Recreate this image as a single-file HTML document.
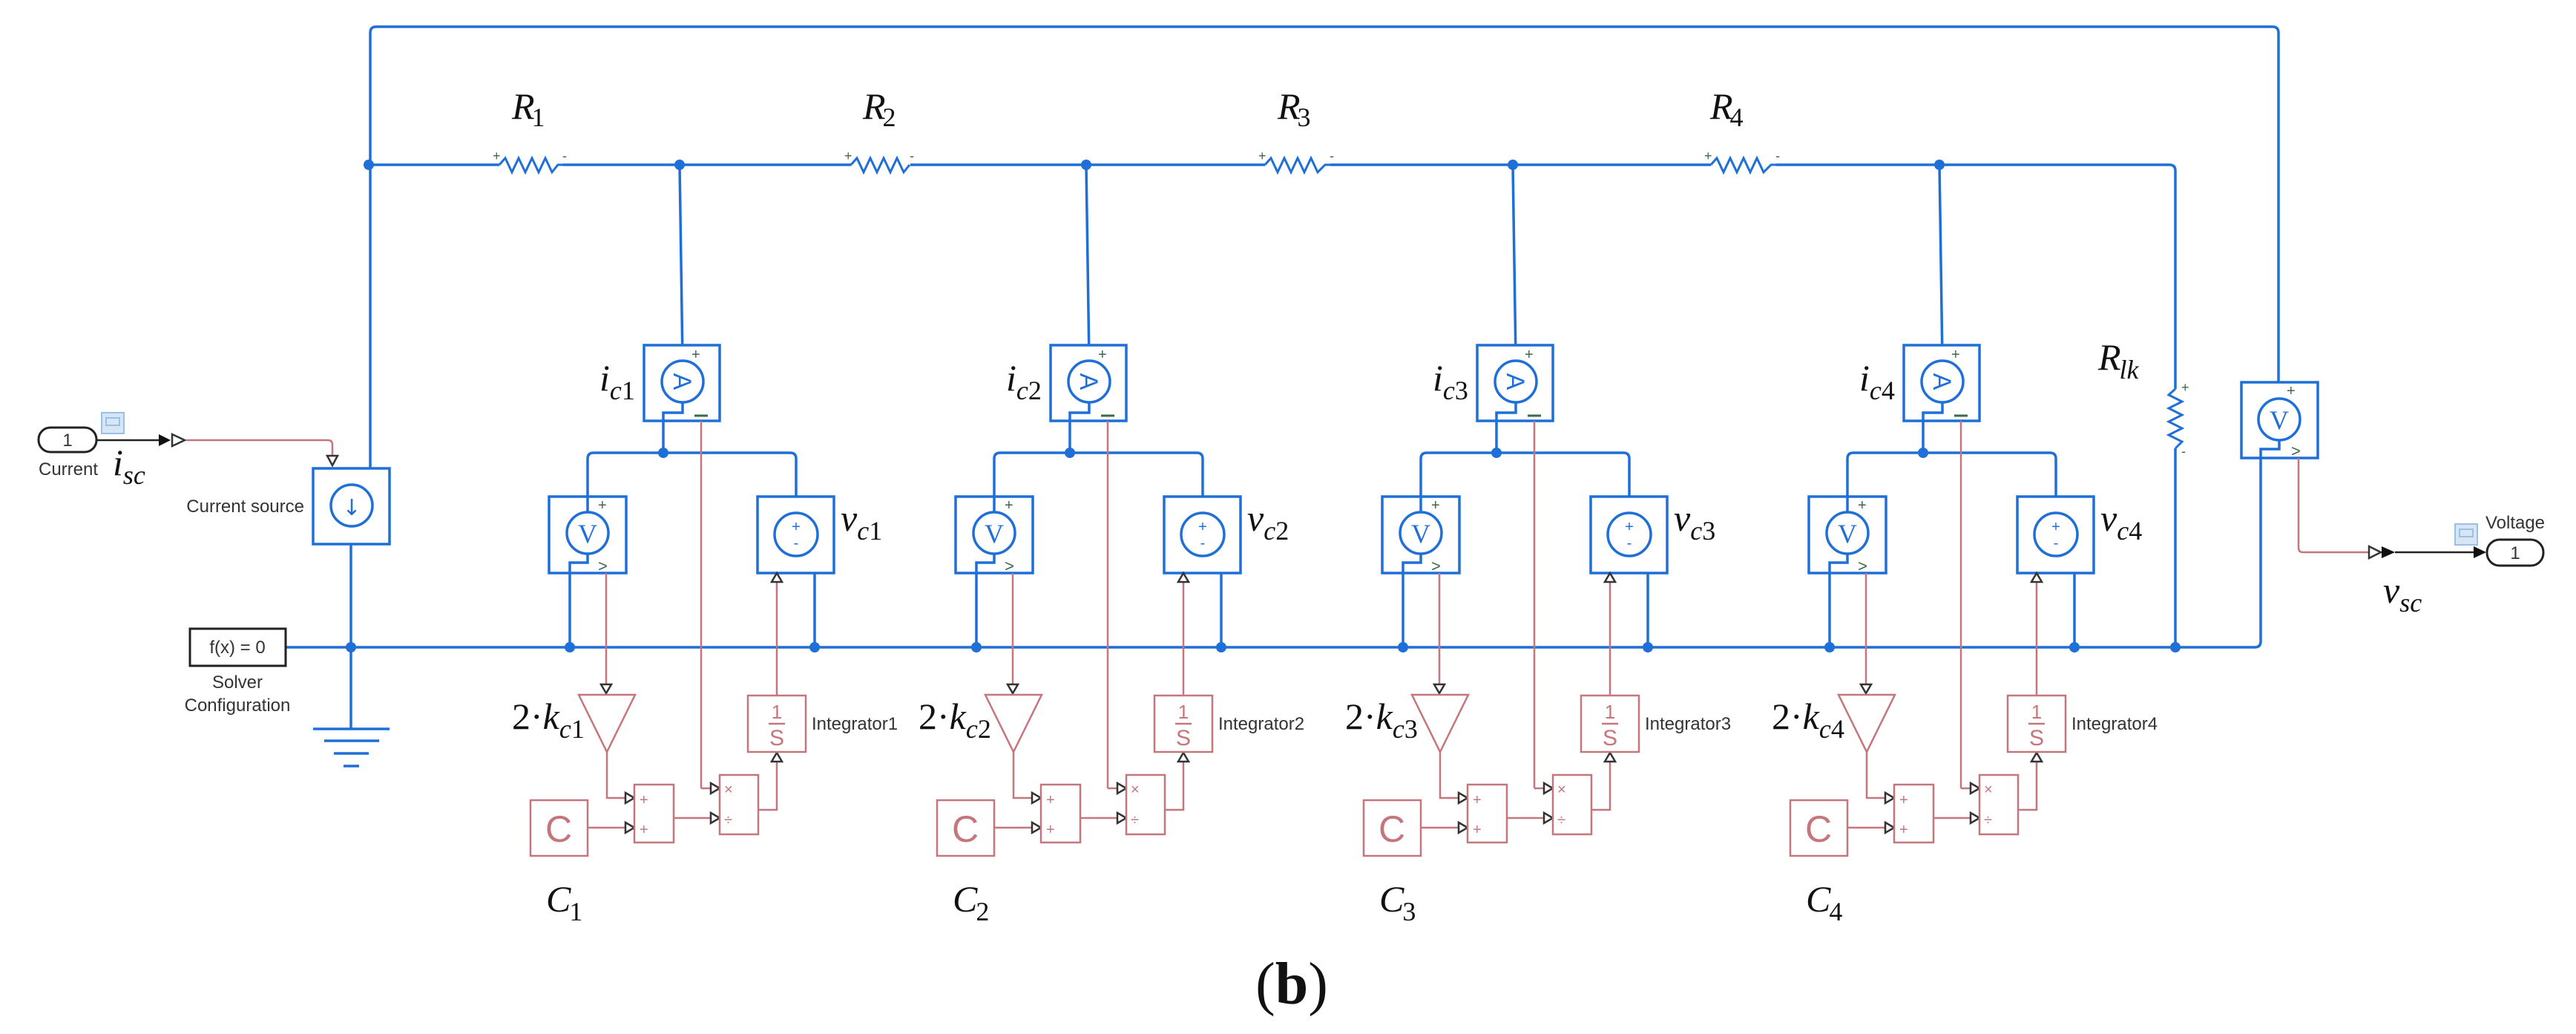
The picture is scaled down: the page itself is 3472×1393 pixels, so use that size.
<!DOCTYPE html>
<html><head><meta charset="utf-8"><style>
html,body{margin:0;padding:0;background:#fff;}
svg{display:block;}
.b{stroke:#1f6fd8;stroke-width:3.5;fill:none;}
.r{stroke:#c5767c;stroke-width:2.5;fill:none;}
.rb{stroke:#c5767c;stroke-width:2.5;fill:#fff;}
.bb{stroke:#1f6fd8;stroke-width:3.5;fill:#fff;}
.dot{fill:#1f6fd8;}
.ar{fill:#fff;stroke:#333;stroke-width:2.5;}
.m{font-family:"Liberation Serif",serif;font-style:italic;font-size:50px;fill:#111;}
.s{font-family:"Liberation Serif",serif;font-style:italic;font-size:36px;}
.sn{font-family:"Liberation Serif",serif;font-style:normal;font-size:36px;}
.t{font-family:"Liberation Sans",sans-serif;font-size:24px;fill:#333;}
</style></head><body>
<svg width="3472" height="1393" viewBox="0 0 3472 1393" xmlns="http://www.w3.org/2000/svg">
<defs>
<g id="mod">
  <!-- top vertical to ammeter -->
  <line class="b" x1="916" y1="222" x2="920" y2="486"/>
  <!-- ammeter -->
  <rect class="bb" x="868" y="465" width="102" height="102"/>
  <circle class="b" cx="920" cy="514" r="28" stroke-width="3"/>
  <text x="920" y="526" text-anchor="middle" transform="rotate(90 920 514)" font-family="Liberation Sans,sans-serif" font-size="34" fill="#1f6fd8">A</text>
  <text x="932" y="484" font-family="Liberation Sans,sans-serif" font-size="20" fill="#3a6a4a">+</text>
  <line x1="936" y1="560" x2="954" y2="560" stroke="#3a6a4a" stroke-width="3"/>
  <polyline class="b" stroke-width="2.5" points="920,542 920,556 894,556 894,610"/>
  <!-- junction horizontal -->
  <path class="b" d="M792,669 V618 Q792,610 800,610 H1065 Q1073,610 1073,618 V669"/>
  <circle class="dot" cx="894" cy="610" r="7"/>
  <!-- V sensor -->
  <rect class="bb" x="740" y="669" width="104" height="103"/>
  <line class="b" x1="792" y1="669" x2="792" y2="690"/>
  <circle class="b" cx="792" cy="718" r="28" stroke-width="3"/>
  <text x="792" y="731" text-anchor="middle" font-family="Liberation Serif,serif" font-size="36" fill="#1f6fd8">V</text>
  <text x="806" y="687" font-family="Liberation Sans,sans-serif" font-size="20" fill="#3a6a4a">+</text>
  <text x="806" y="770" font-family="Liberation Sans,sans-serif" font-size="22" fill="#3a6a4a">&gt;</text>
  <polyline class="b" stroke-width="2.5" points="792,746 792,758 768,758 768,872"/>
  <circle class="dot" cx="768" cy="872" r="7"/>
  <!-- voltage source -->
  <rect class="bb" x="1021" y="669" width="103" height="103"/>
  <circle class="b" cx="1073" cy="720" r="29" stroke-width="3"/>
  <text x="1073" y="716" text-anchor="middle" font-family="Liberation Sans,sans-serif" font-size="20" fill="#1f6fd8">+</text>
  <text x="1073" y="738" text-anchor="middle" font-family="Liberation Sans,sans-serif" font-size="20" fill="#1f6fd8">-</text>
  <line class="b" x1="1098" y1="772" x2="1098" y2="872"/>
  <circle class="dot" cx="1098" cy="872" r="7"/>
  <!-- red signals -->
  <line class="r" x1="945" y1="567" x2="945" y2="1062"/>
  <line class="r" x1="945" y1="1062" x2="958" y2="1062"/>
  <polygon class="ar" points="958,1055 970,1062 958,1069"/>
  <line class="r" x1="817" y1="772" x2="817" y2="922"/>
  <polygon class="ar" points="810,922 824,922 817,934"/>
  <polygon class="rb" points="780,936 856,936 818,1013"/>
  <polyline class="r" points="818,1013 818,1075 843,1075"/>
  <polygon class="ar" points="843,1068 855,1075 843,1082"/>
  <rect class="rb" x="715" y="1078" width="77" height="75"/>
  <text x="753" y="1134" text-anchor="middle" font-family="Liberation Sans,sans-serif" font-size="50" fill="#c5767c">C</text>
  <line class="r" x1="792" y1="1115" x2="843" y2="1115"/>
  <polygon class="ar" points="843,1108 855,1115 843,1122"/>
  <rect class="rb" x="855" y="1057" width="53" height="78"/>
  <text x="862" y="1084" font-family="Liberation Sans,sans-serif" font-size="20" fill="#c5767c">+</text>
  <text x="862" y="1124" font-family="Liberation Sans,sans-serif" font-size="20" fill="#c5767c">+</text>
  <line class="r" x1="908" y1="1102" x2="958" y2="1102"/>
  <polygon class="ar" points="958,1095 970,1102 958,1109"/>
  <rect class="rb" x="970" y="1044" width="52" height="80"/>
  <text x="976" y="1070" font-family="Liberation Sans,sans-serif" font-size="20" fill="#c5767c">×</text>
  <text x="976" y="1111" font-family="Liberation Sans,sans-serif" font-size="20" fill="#c5767c">÷</text>
  <polyline class="r" points="1022,1091 1047,1091 1047,1026"/>
  <polygon class="ar" points="1040,1026 1054,1026 1047,1014"/>
  <rect class="rb" x="1008" y="937" width="78" height="76"/>
  <text x="1047" y="968" text-anchor="middle" font-family="Liberation Sans,sans-serif" font-size="26" fill="#c5767c">1</text>
  <line class="r" x1="1036" y1="975" x2="1058" y2="975"/>
  <text x="1047" y="1004" text-anchor="middle" font-family="Liberation Sans,sans-serif" font-size="30" fill="#c5767c">S</text>
  <line class="r" x1="1047" y1="937" x2="1047" y2="784"/>
  <polygon class="ar" points="1040,784 1054,784 1047,772"/>
</g>
</defs>

<!-- frame wires -->
<path class="b" d="M499,631 V44 Q499,36 507,36 H3063 Q3071,36 3071,44 V515"/>
<path class="b" d="M499,222 H2924 Q2932,222 2932,230 V872"/>
<path class="b" d="M385,872 H3039 Q3047,872 3047,864 V617"/>
<circle class="dot" cx="497" cy="222" r="7"/>
<circle class="dot" cx="473" cy="872" r="7"/>
<circle class="dot" cx="2932" cy="872" r="7"/>
<circle class="dot" cx="916" cy="222" r="7"/>
<circle class="dot" cx="1464" cy="222" r="7"/>
<circle class="dot" cx="2039" cy="222" r="7"/>
<circle class="dot" cx="2614" cy="222" r="7"/>

<!-- resistors -->
<g fill="none" stroke="#1f6fd8" stroke-width="3">
<rect x="673" y="205" width="86" height="34" fill="#fff" stroke="none"/>
<polyline points="673,222 681,213 690,232 699,213 708,232 717,213 726,232 735,213 744,232 752,222 759,222"/>
<rect x="1147" y="205" width="80" height="34" fill="#fff" stroke="none"/>
<polyline points="1147,222 1155,213 1164,232 1173,213 1182,232 1191,213 1200,232 1209,213 1218,232 1226,222"/>
<rect x="1705" y="205" width="88" height="34" fill="#fff" stroke="none"/>
<polyline points="1705,222 1713,213 1722,232 1731,213 1740,232 1749,213 1758,232 1767,213 1776,232 1786,222 1793,222"/>
<rect x="2306" y="205" width="88" height="34" fill="#fff" stroke="none"/>
<polyline points="2306,222 2314,213 2323,232 2332,213 2341,232 2350,213 2359,232 2368,213 2377,232 2387,222 2394,222"/>
<rect x="2915" y="524" width="34" height="80" fill="#fff" stroke="none"/>
<polyline points="2932,524 2923,532 2941,541 2923,550 2941,559 2923,568 2941,577 2923,586 2941,595 2932,604"/>
</g>
<g font-family="Liberation Sans,sans-serif" font-size="18" fill="#3a6a4a">
<text x="664" y="216">+</text><text x="758" y="216">-</text>
<text x="1138" y="216">+</text><text x="1226" y="216">-</text>
<text x="1696" y="216">+</text><text x="1792" y="216">-</text>
<text x="2297" y="216">+</text><text x="2393" y="216">-</text>
<text x="2940" y="528">+</text><text x="2940" y="614">-</text>
</g>
<text class="m" x="690" y="160">R<tspan class="sn" dx="-4" dy="10">1</tspan></text>
<text class="m" x="1163" y="160">R<tspan class="sn" dx="-4" dy="10">2</tspan></text>
<text class="m" x="1722" y="160">R<tspan class="sn" dx="-4" dy="10">3</tspan></text>
<text class="m" x="2305" y="160">R<tspan class="sn" dx="-4" dy="10">4</tspan></text>
<text class="m" x="2828" y="498">R<tspan class="s" dx="-2" dy="12">lk</tspan></text>

<!-- modules -->
<use href="#mod"/>
<use href="#mod" transform="translate(548,0)"/>
<use href="#mod" transform="translate(1123,0)"/>
<use href="#mod" transform="translate(1698,0)"/>

<!-- module labels -->
<g>
<text class="m" x="808" y="526">i<tspan class="s" dy="12">c</tspan><tspan class="sn">1</tspan></text>
<text class="m" x="1356" y="526">i<tspan class="s" dy="12">c</tspan><tspan class="sn">2</tspan></text>
<text class="m" x="1931" y="526">i<tspan class="s" dy="12">c</tspan><tspan class="sn">3</tspan></text>
<text class="m" x="2506" y="526">i<tspan class="s" dy="12">c</tspan><tspan class="sn">4</tspan></text>
<text class="m" x="1133" y="715">v<tspan class="s" dy="12">c</tspan><tspan class="sn">1</tspan></text>
<text class="m" x="1681" y="715">v<tspan class="s" dy="12">c</tspan><tspan class="sn">2</tspan></text>
<text class="m" x="2256" y="715">v<tspan class="s" dy="12">c</tspan><tspan class="sn">3</tspan></text>
<text class="m" x="2831" y="715">v<tspan class="s" dy="12">c</tspan><tspan class="sn">4</tspan></text>
<text class="m" x="690" y="982"><tspan font-style="normal">2·</tspan>k<tspan class="s" dy="12">c</tspan><tspan class="sn">1</tspan></text>
<text class="m" x="1238" y="982"><tspan font-style="normal">2·</tspan>k<tspan class="s" dy="12">c</tspan><tspan class="sn">2</tspan></text>
<text class="m" x="1813" y="982"><tspan font-style="normal">2·</tspan>k<tspan class="s" dy="12">c</tspan><tspan class="sn">3</tspan></text>
<text class="m" x="2388" y="982"><tspan font-style="normal">2·</tspan>k<tspan class="s" dy="12">c</tspan><tspan class="sn">4</tspan></text>
<text class="m" x="736" y="1228">C<tspan class="sn" dx="-2" dy="12">1</tspan></text>
<text class="m" x="1284" y="1228">C<tspan class="sn" dx="-2" dy="12">2</tspan></text>
<text class="m" x="1859" y="1228">C<tspan class="sn" dx="-2" dy="12">3</tspan></text>
<text class="m" x="2434" y="1228">C<tspan class="sn" dx="-2" dy="12">4</tspan></text>
<text class="t" x="1094" y="983">Integrator1</text>
<text class="t" x="1642" y="983">Integrator2</text>
<text class="t" x="2217" y="983">Integrator3</text>
<text class="t" x="2792" y="983">Integrator4</text>
</g>

<!-- current source -->
<rect class="bb" x="422" y="631" width="103" height="102"/>
<circle class="b" cx="474" cy="681" r="28" stroke-width="3"/>
<text x="474" y="694" text-anchor="middle" font-family="DejaVu Sans,sans-serif" font-size="30" fill="#1f6fd8">↓</text>
<line class="b" x1="473" y1="733" x2="473" y2="982"/>
<g stroke="#1f6fd8" stroke-width="3.5">
<line x1="422" y1="982" x2="525" y2="982"/>
<line x1="437" y1="998" x2="511" y2="998"/>
<line x1="450" y1="1015" x2="497" y2="1015"/>
<line x1="463" y1="1032" x2="484" y2="1032"/>
</g>
<text class="t" x="410" y="690" text-anchor="end">Current source</text>

<!-- solver -->
<rect x="256" y="847" width="129" height="50" fill="#fff" stroke="#222" stroke-width="3"/>
<text class="t" x="320" y="880" text-anchor="middle" fill="#222">f(x) = 0</text>
<text class="t" x="320" y="927" text-anchor="middle">Solver</text>
<text class="t" x="320" y="958" text-anchor="middle">Configuration</text>

<!-- current inport -->
<rect x="52" y="576" width="78" height="33" rx="16" fill="#fff" stroke="#222" stroke-width="3"/>
<text class="t" x="91" y="601" text-anchor="middle" fill="#222">1</text>
<text class="t" x="92" y="640" text-anchor="middle">Current</text>
<rect x="137" y="556" width="30" height="28" fill="#d6e6f6" stroke="#9cc0e4" stroke-width="2"/>
<rect x="143" y="563" width="18" height="10" fill="none" stroke="#9cc0e4" stroke-width="2"/>
<line x1="130" y1="593" x2="214" y2="593" stroke="#222" stroke-width="2.5"/>
<polygon points="214,585 230,593 214,601" fill="#111"/>
<polygon class="ar" points="232,585 249,593 232,601"/>
<path class="r" d="M251,593 H442 Q448,593 448,599 V614"/>
<polygon class="ar" points="441,614 455,614 448,627"/>
<text class="m" x="152" y="640">i<tspan class="s" dy="12">sc</tspan></text>

<!-- output voltage sensor -->
<rect class="bb" x="3021" y="515" width="103" height="102"/>
<circle class="b" cx="3072" cy="565" r="28" stroke-width="3"/>
<text x="3072" y="578" text-anchor="middle" font-family="Liberation Serif,serif" font-size="36" fill="#1f6fd8">V</text>
<text x="3082" y="533" font-family="Liberation Sans,sans-serif" font-size="20" fill="#3a6a4a">+</text>
<text x="3088" y="615" font-family="Liberation Sans,sans-serif" font-size="22" fill="#3a6a4a">&gt;</text>
<polyline class="b" stroke-width="2.5" points="3072,593 3072,605 3047,605 3047,617"/>
<path class="r" d="M3098,617 V738 Q3098,744 3104,744 H3193"/>
<polygon class="ar" points="3193,736 3209,744 3193,752"/>
<polygon points="3210,736 3228,744 3210,752" fill="#111"/>
<line x1="3228" y1="744" x2="3336" y2="744" stroke="#222" stroke-width="2.5"/>
<polygon points="3334,736 3351,744 3334,752" fill="#111"/>
<rect x="3352" y="727" width="76" height="35" rx="17" fill="#fff" stroke="#222" stroke-width="3"/>
<text class="t" x="3390" y="753" text-anchor="middle" fill="#222">1</text>
<text class="t" x="3390" y="712" text-anchor="middle">Voltage</text>
<rect x="3309" y="706" width="30" height="28" fill="#d6e6f6" stroke="#9cc0e4" stroke-width="2"/>
<rect x="3315" y="713" width="18" height="10" fill="none" stroke="#9cc0e4" stroke-width="2"/>
<text class="m" x="3212" y="812">v<tspan class="s" dy="12">sc</tspan></text>

<text x="1741" y="1352" text-anchor="middle" font-family="Liberation Serif,serif" font-size="80" fill="#111">(<tspan font-weight="bold">b</tspan>)</text>
</svg>
</body></html>
